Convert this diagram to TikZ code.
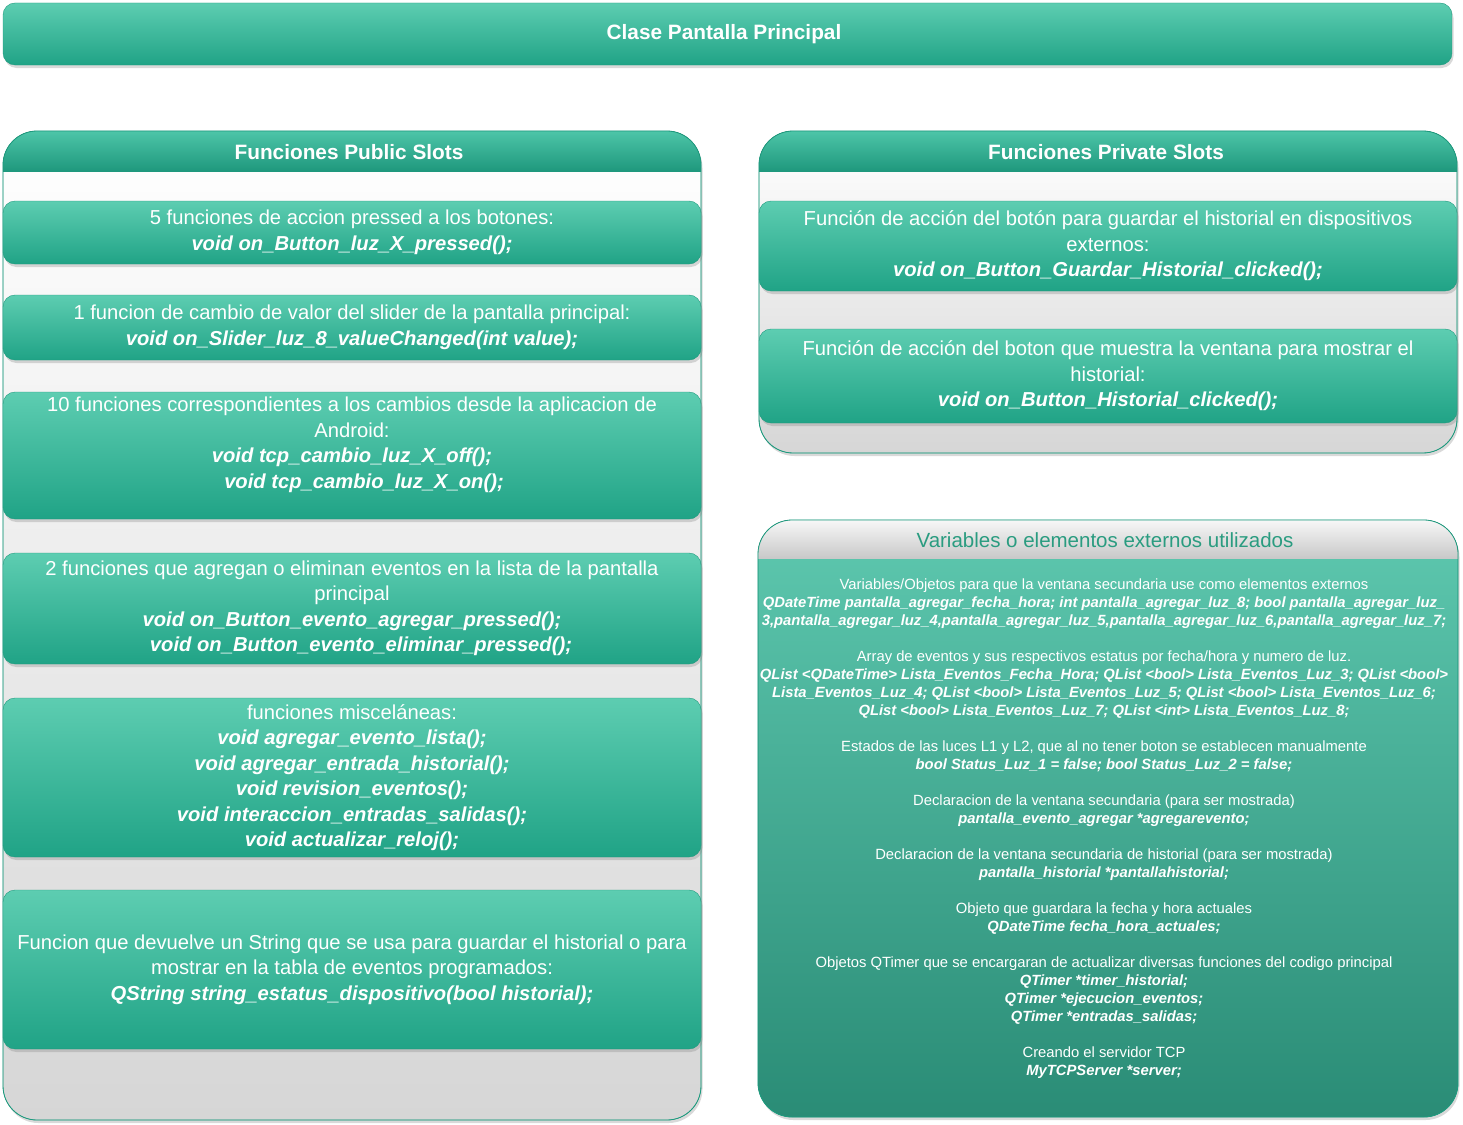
\documentclass[tikz,border=0pt]{standalone}
\usepackage{fontspec}
\setmainfont{Liberation Sans}
\usetikzlibrary{shadows}

\definecolor{verdeclaro}{HTML}{5DCDB1}
\definecolor{verdeoscuro}{HTML}{20A386}
\definecolor{bordeverde}{HTML}{1E9A7E}
\definecolor{cabclaro}{HTML}{4DC5A8}
\definecolor{caboscuro}{HTML}{1F987D}
\definecolor{grisfondo}{HTML}{D6D6D6}
\definecolor{varclaro}{HTML}{5EC8AF}
\definecolor{varoscuro}{HTML}{2A8C76}
\definecolor{grisclaro}{HTML}{F7F7F7}
\definecolor{grisoscuro}{HTML}{C9C9C9}
\definecolor{textoverde}{HTML}{2A9C80}

\newcommand{\codigo}[1]{\textbf{\textit{#1}}}

\begin{document}
\begin{tikzpicture}[x=1pt,y=-1pt,
    sombra/.style={drop shadow={opacity=0.3, shadow xshift=1.5pt, shadow yshift=-3pt}},
    slotbox/.style={draw=bordeverde, rounded corners=12pt, top color=verdeclaro, bottom color=verdeoscuro,
        text=white, align=center, minimum width=698pt, inner sep=0pt,
        font=\fontsize{20.2}{25.5}\selectfont, sombra},
    titulo/.style={text=white, font=\fontsize{20.8}{24}\selectfont\bfseries},
    contenedor/.style={draw=bordeverde, rounded corners=34pt, top color=white, bottom color=grisfondo, sombra}]
    \useasboundingbox (0,0) rectangle (1463,1124);

    % barra superior
    \node[draw=bordeverde, rounded corners=12pt, top color=verdeclaro, bottom color=verdeoscuro,
        minimum width=1449pt, minimum height=62pt, sombra] (clase) at (727.5,34) {};
    \node[titulo] (clasetxt) at (724,34) {Clase Pantalla Principal};

    % contenedor public slots
    \draw[contenedor] (3,131) rectangle (701,1120);
    \begin{scope}
        \clip[rounded corners=34pt] (3,131) rectangle (701,1120);
        \fill[top color=cabclaro, bottom color=caboscuro] (3,131) rectangle (701,171);
    \end{scope}
    \draw[draw=bordeverde, thick, rounded corners=34pt] (3,131) rectangle (701,1120);
    \node[titulo] (publicos) at (349,152) {Funciones Public Slots};

    \node[slotbox, minimum height=63pt] (pub1) at (352,232.5) {5 funciones de accion pressed a los botones:\\
        \codigo{void on\_Button\_luz\_X\_pressed();}};
    \node[slotbox, minimum height=65pt] (pub2) at (352,327.5) {1 funcion de cambio de valor del slider de la pantalla principal:\\
        \codigo{void on\_Slider\_luz\_8\_valueChanged(int value);}};
    \node[slotbox, minimum height=127pt] (pub3) at (352,455.5) {10 funciones correspondientes a los cambios desde la aplicacion de\\
        Android:\\
        \codigo{void tcp\_cambio\_luz\_X\_off();}\\
        \hspace*{24pt}\codigo{void tcp\_cambio\_luz\_X\_on();}\\ ~};
    \node[slotbox, minimum height=111pt] (pub4) at (352,608.5) {2 funciones que agregan o eliminan eventos en la lista de la pantalla\\
        principal\\
        \codigo{void on\_Button\_evento\_agregar\_pressed();}\\
        \hspace*{18pt}\codigo{void on\_Button\_evento\_eliminar\_pressed();}};
    \node[slotbox, minimum height=159pt] (pub5) at (352,777.5) {funciones misceláneas:\\
        \codigo{void agregar\_evento\_lista();}\\
        \codigo{void agregar\_entrada\_historial();}\\
        \codigo{void revision\_eventos();}\\
        \codigo{void interaccion\_entradas\_salidas();}\\
        \codigo{void actualizar\_reloj();}};
    \node[slotbox, minimum height=159pt] (pub6) at (352,969.5) {Funcion que devuelve un String que se usa para guardar el historial o para\\
        mostrar en la tabla de eventos programados:\\
        \codigo{QString string\_estatus\_dispositivo(bool historial);}};

    % contenedor private slots
    \draw[contenedor] (759,131) rectangle (1457,453);
    \begin{scope}
        \clip[rounded corners=34pt] (759,131) rectangle (1457,453);
        \fill[top color=cabclaro, bottom color=caboscuro] (759,131) rectangle (1457,171);
    \end{scope}
    \draw[draw=bordeverde, thick, rounded corners=34pt] (759,131) rectangle (1457,453);
    \node[titulo] (privados) at (1106,152) {Funciones Private Slots};

    \node[slotbox, minimum height=90pt] (priv1) at (1108,246) {Función de acción del botón para guardar el historial en dispositivos\\
        externos:\\
        \codigo{void on\_Button\_Guardar\_Historial\_clicked();}};
    \node[slotbox, minimum height=94pt] (priv2) at (1108,376) {Función de acción del boton que muestra la ventana para mostrar el\\
        historial:\\
        \codigo{void on\_Button\_Historial\_clicked();}};

    % variables externas
    \draw[draw=bordeverde, rounded corners=34pt, top color=varclaro, bottom color=varoscuro, sombra] (758,520) rectangle (1458,1117);
    \begin{scope}
        \clip[rounded corners=34pt] (758,520) rectangle (1458,1117);
        \fill[top color=grisclaro, bottom color=grisoscuro] (758,520) rectangle (1458,558);
    \end{scope}
    \draw[draw=bordeverde, thick, rounded corners=34pt] (758,520) rectangle (1458,1117);
    \node[text=textoverde, font=\fontsize{20.5}{24}\selectfont] (variables) at (1105,540) {Variables o elementos externos utilizados};

    \node[text=white, align=center, font=\fontsize{14.8}{18}\selectfont] (listavar) at (1104,829) {%
        Variables/Objetos para que la ventana secundaria use como elementos externos\\
        \codigo{QDateTime pantalla\_agregar\_fecha\_hora; int pantalla\_agregar\_luz\_8; bool pantalla\_agregar\_luz\_}\\
        \codigo{3,pantalla\_agregar\_luz\_4,pantalla\_agregar\_luz\_5,pantalla\_agregar\_luz\_6,pantalla\_agregar\_luz\_7;}\\[18pt]
        Array de eventos y sus respectivos estatus por fecha/hora y numero de luz.\\
        \codigo{QList <QDateTime> Lista\_Eventos\_Fecha\_Hora; QList <bool> Lista\_Eventos\_Luz\_3; QList <bool>}\\
        \codigo{Lista\_Eventos\_Luz\_4; QList <bool> Lista\_Eventos\_Luz\_5; QList <bool> Lista\_Eventos\_Luz\_6;}\\
        \codigo{QList <bool> Lista\_Eventos\_Luz\_7; QList <int> Lista\_Eventos\_Luz\_8;}\\[18pt]
        Estados de las luces L1 y L2, que al no tener boton se establecen manualmente\\
        \codigo{bool Status\_Luz\_1 = false; bool Status\_Luz\_2 = false;}\\[18pt]
        Declaracion de la ventana secundaria (para ser mostrada)\\
        \codigo{pantalla\_evento\_agregar *agregarevento;}\\[18pt]
        Declaracion de la ventana secundaria de historial (para ser mostrada)\\
        \codigo{pantalla\_historial *pantallahistorial;}\\[18pt]
        Objeto que guardara la fecha y hora actuales\\
        \codigo{QDateTime fecha\_hora\_actuales;}\\[18pt]
        Objetos QTimer que se encargaran de actualizar diversas funciones del codigo principal\\
        \codigo{QTimer *timer\_historial;}\\
        \codigo{QTimer *ejecucion\_eventos;}\\
        \codigo{QTimer *entradas\_salidas;}\\[18pt]
        Creando el servidor TCP\\
        \codigo{MyTCPServer *server;}};
\end{tikzpicture}
\end{document}
